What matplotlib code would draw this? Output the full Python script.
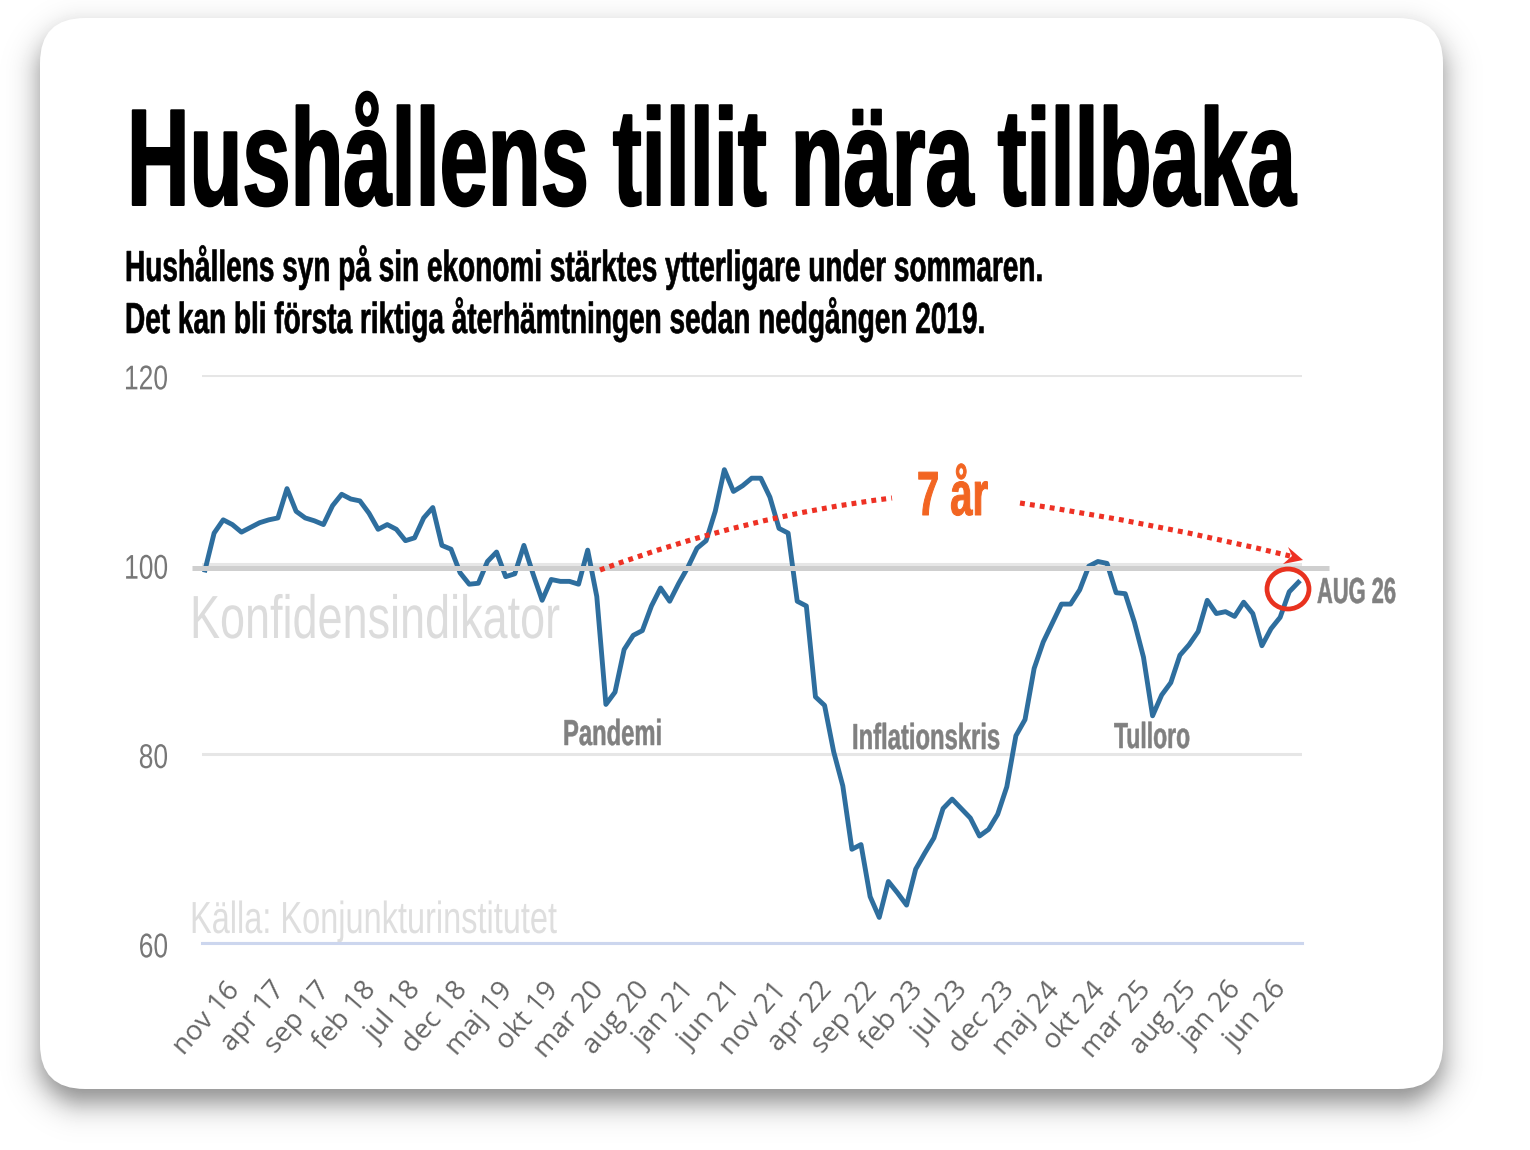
#!/usr/bin/env python3
import matplotlib

matplotlib.use("Agg")
import matplotlib.pyplot as plt
import numpy as np
from matplotlib.patches import Ellipse, FancyBboxPatch, PathPatch, Polygon
from matplotlib.path import Path
from matplotlib.patheffects import AbstractPathEffect
from matplotlib.transforms import Affine2D, ScaledTranslation

W, H = 1530, 1150
NARROW = ["Liberation Sans Narrow", "Liberation Sans", "DejaVu Sans"]

index_values = [
    99.4, 103.3, 104.7, 104.2, 103.4, 103.9, 104.4, 104.7, 104.9, 108.0,
    105.6, 104.9, 104.6, 104.2, 106.2, 107.4, 106.9, 106.7, 105.4, 103.7,
    104.2, 103.7, 102.5, 102.8, 104.9, 106.0, 102.0, 101.6, 99.1, 97.9,
    98.0, 100.3, 101.3, 98.7, 99.0, 102.0, 99.0, 96.2, 98.4, 98.2,
    98.2, 97.9, 101.5, 96.6, 85.2, 86.5, 91.0, 92.5, 93.0, 95.6,
    97.5, 96.1, 98.0, 99.7, 101.7, 102.5, 105.6, 110.0, 107.7, 108.3,
    109.1, 109.1, 107.1, 103.8, 103.3, 96.1, 95.6, 86.0, 85.1, 80.2,
    76.6, 69.9, 70.4, 64.9, 62.7, 66.5, 65.3, 64.0, 67.8, 69.5,
    71.1, 74.2, 75.2, 74.2, 73.2, 71.3, 72.0, 73.6, 76.5, 81.9,
    83.6, 89.0, 91.8, 93.8, 95.8, 95.8, 97.3, 99.8, 100.3, 100.1,
    97.0, 96.9, 93.9, 90.2, 84.0, 86.2, 87.5, 90.4, 91.5, 92.9,
    96.2, 94.8, 95.0, 94.5, 96.0, 94.8, 91.4, 93.2, 94.4, 97.1,
    98.1,
]
tick_labels = [
    "nov 16", "apr 17", "sep 17", "feb 18", "jul 18", "dec 18", "maj 19", "okt 19",
    "mar 20", "aug 20", "jan 21", "jun 21", "nov 21", "apr 22", "sep 22", "feb 23",
    "jul 23", "dec 23", "maj 24", "okt 24", "mar 25", "aug 25", "jan 26", "jun 26",
]
y_ticks = [60, 80, 100, 120]


class Stretch(AbstractPathEffect):
    # stretch glyph outlines vertically about y0, optional stroke to make stems heavier
    def __init__(self, sy, y0, bold=0.0):
        super().__init__()
        self.sy = sy
        self.y0 = y0
        self.bold = bold

    def draw_path(self, renderer, gc, tpath, affine, rgbFace=None):
        extra = Affine2D().translate(0, -self.y0).scale(1, self.sy).translate(0, self.y0)
        if self.bold > 0:
            gc0 = renderer.new_gc()
            gc0.copy_properties(gc)
            gc0.set_foreground(rgbFace)
            gc0.set_linewidth(self.bold * 72 / 100)
            renderer.draw_path(gc0, tpath, affine + extra, rgbFace)
            gc0.restore()
        else:
            renderer.draw_path(gc, tpath, affine + extra, rgbFace)


def fit_text(ax, x, y, s, width, cap, color, weight="normal", bold=0.0, zorder=5):
    t = ax.text(x, y, s, family=NARROW, fontsize=40, fontweight=weight, color=color,
                ha="left", va="baseline", zorder=zorder)
    r = ax.figure.canvas.get_renderer()
    size = 40 * width / t.get_window_extent(r).width
    t.set_fontsize(size)
    t.set_path_effects([Stretch(cap / (size * 100 / 72 * 0.69), H - y, bold)])
    return t


def pixel_axes(fig, zorder):
    a = fig.add_axes([0, 0, 1, 1], zorder=zorder)
    a.set_xlim(0, W)
    a.set_ylim(H, 0)
    a.axis("off")
    a.patch.set_alpha(0)
    return a


fig = plt.figure(figsize=(W / 100, H / 100), dpi=100, facecolor="white")
bg = pixel_axes(fig, 0)
top = pixel_axes(fig, 2)

# card shadow, rounded rect distance field
cx, cy, hw, hh, rad = 741.5, 553.5, 701.5, 535.5, 45
gx, gy = np.meshgrid(np.arange(W) + 0.5, np.arange(H) + 0.5)
qx = np.abs(gx - cx) - (hw - rad)
qy = np.abs(gy - (cy + 14)) - (hh - rad)
dist = np.hypot(np.maximum(qx, 0), np.maximum(qy, 0)) + np.minimum(np.maximum(qx, qy), 0) - rad
shade = 1 - 0.46 * 0.5 * (1 - np.tanh(dist / 17))
bg.imshow(shade, cmap="gray", vmin=0, vmax=1, extent=(0, W, H, 0), aspect="auto", zorder=0)
bg.add_patch(FancyBboxPatch((40 + rad, 18 + rad), 2 * hw - 2 * rad, 2 * hh - 2 * rad,
                            boxstyle=f"round,pad={rad},rounding_size={rad}",
                            fc="white", ec="none", zorder=1))

fit_text(bg, 127, 205, "Hushållens tillit nära tillbaka", 1167, 95, "black", "bold", 2.0)
fit_text(bg, 125, 281, "Hushållens syn på sin ekonomi stärktes ytterligare under sommaren.", 917, 30, "black", "bold", 0.6)
fit_text(bg, 125, 333, "Det kan bli första riktiga återhämtningen sedan nedgången 2019.", 859, 30, "black", "bold", 0.6)
fit_text(bg, 190, 638, "Konfidensindikator", 370, 42, "#dcdcdc")
fit_text(bg, 190, 933, "Källa: Konjunkturinstitutet", 367, 31, "#dedede")

ax = fig.add_axes([202 / W, 1 - 943 / H, 1100 / W, 568 / H], zorder=1)
ax.patch.set_alpha(0)
x = np.arange(len(index_values))
ax.plot(x, index_values, color="#2E6E9E", lw=3.5, solid_joinstyle="round", zorder=3)
ax.set_xlim(-0.33, 120.4)
ax.set_ylim(60, 120)
ax.set_yticks(y_ticks)
ax.set_xticks(np.arange(len(tick_labels)) * 5 + 3)
ax.set_xticklabels(tick_labels)
ax.grid(axis="y", color="#e6e6e6", lw=2.2, zorder=1)
ax.set_axisbelow(True)
for side in ["top", "left", "right"]:
    ax.spines[side].set_visible(False)
ax.spines["bottom"].set_color("#ccd6ee")
ax.spines["bottom"].set_linewidth(2.2)
ax.tick_params(axis="y", length=0, pad=24.5, labelsize=19, labelcolor="#777777")
ax.tick_params(axis="x", length=0, pad=30, labelsize=20, labelcolor="#666666")
for v, lab in zip(y_ticks, ax.get_yticklabels()):
    lab.set_family(NARROW)
    lab.set_transform(lab.get_transform() + ScaledTranslation(0, -2 / 100, fig.dpi_scale_trans))
    lab.set_path_effects([Stretch(1.3, ax.transData.transform((0, v))[1] - 2)])
for lab in ax.get_xticklabels():
    lab.set_family("Open Sans")
    lab.set_rotation(49)
    lab.set_rotation_mode("anchor")
    lab.set_ha("right")
    lab.set_va("center")
    lab.set_transform(lab.get_transform() + ScaledTranslation(3 / 100, -1 / 100, fig.dpi_scale_trans))

# overlay: reference line at 100, arrows and notes
top.plot([192, 1329], [568, 568], color="#cfcfcf", lw=3.6, solid_capstyle="butt", zorder=2)
for pts in ([(600, 570), (746, 516), (892, 498)], [(1020, 503), (1155, 523), (1290, 556)]):
    top.add_patch(PathPatch(Path(pts, [Path.MOVETO, Path.CURVE3, Path.CURVE3]), fc="none", ec="#EE3124",
                            lw=3.7, ls=(0, (0.95, 1.0)), capstyle="butt", zorder=3))
top.add_patch(Polygon([(1303, 560), (1288, 547), (1292, 556), (1283, 564)], fc="#EE3124", ec="none", zorder=3))
top.add_patch(Ellipse((1288, 589), 42, 40, fc="none", ec="#E8321F", lw=3.4, zorder=4))
fit_text(top, 917, 515, "7 år", 71, 43, "#F26522", "bold", 1.0)
fit_text(top, 563, 745, "Pandemi", 99, 25, "#808080", "bold", 0.5)
fit_text(top, 852, 749, "Inflationskris", 148, 25, "#808080", "bold", 0.5)
fit_text(top, 1114, 748, "Tulloro", 76, 25, "#808080", "bold", 0.5)
fit_text(top, 1317, 603, "AUG 26", 79, 25, "#808080", "bold", 0.5)

fig.savefig("out.png", dpi=100, facecolor="white")
